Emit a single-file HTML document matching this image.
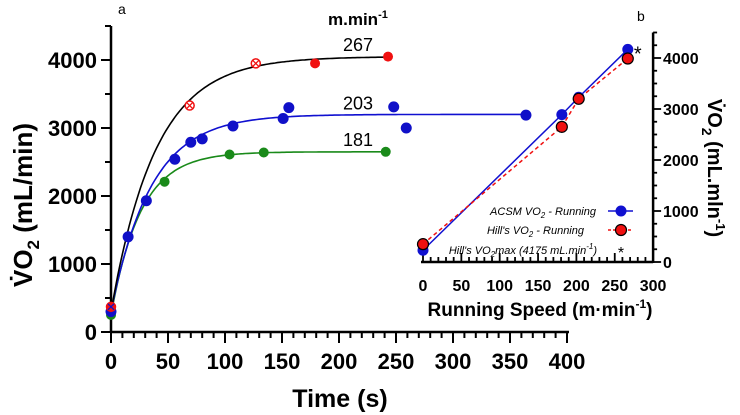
<!DOCTYPE html>
<html><head><meta charset="utf-8"><style>
body{margin:0;background:#fff}
svg{display:block;font-family:"Liberation Sans",Arial,sans-serif}
</style></head><body>
<svg id="c" width="740" height="415" viewBox="0 0 740 415" xmlns="http://www.w3.org/2000/svg"></svg>
<script>
// Panel a data
const xTicksA = [0,50,100,150,200,250,300,350,400];
const yTicksA = [0,1000,2000,3000,4000];
const redHollowT = [0,69,127];
const redHollowV = [370,3330,3950];
const redFilledT = [179,243];
const redFilledV = [3950,4050];
const blueT = [0,15,31,56,70,80,107,151,156,248,259,364];
const blueV = [300,1400,1930,2540,2790,2840,3030,3140,3300,3310,3000,3190];
const greenT = [0,47,104,134,241];
const greenV = [250,2210,2610,2640,2650];
// fitted curves: [baseline, plateau, tau, end time]
const fitBlack = [300,4050,39,243];
const fitBlue = [300,3200,35,364];
const fitGreen = [250,2650,26,241];
const speedLabels = ["267","203","181"];
const speedLabelV = [4250,3390,2850];
// Panel b data
const xTicksB = [0,50,100,150,200,250,300];
const yTicksB = [0,1000,2000,3000,4000];
const speeds = [0,181,203,267];
const acsmV = [230,2890,3230,4170];
const hillV = [350,2650,3200,3990];
const starS = [280]; const starV = [4150];

const svg=document.getElementById('c');
const NS='http://www.w3.org/2000/svg';
function el(tag,attrs,parent){const e=document.createElementNS(NS,tag);for(const k in attrs)e.setAttribute(k,attrs[k]);(parent||svg).appendChild(e);return e;}
function txt(s,attrs,parent){const e=el('text',attrs,parent);e.textContent=s;return e;}

const xA=t=>111+t*1.14, yA=v=>332-v*0.068;
const xB=s=>423+s*0.767, yB=v=>262-v*0.051;

// ---- Panel a
const gA=el('g',{});


el('line',{x1:xA(0),y1:332,x2:xA(400)+2,y2:332,stroke:'#000','stroke-width':2.5},gA);
el('line',{x1:111,y1:332,x2:111,y2:yA(4500),stroke:'#000','stroke-width':2.5},gA);
for(let t=0;t<=400;t+=10){const maj=t%50===0;el('line',{x1:xA(t),y1:332,x2:xA(t),y2:332+(maj?11:6),stroke:'#000','stroke-width':2},gA);}
for(let v=0;v<=4500;v+=500){const maj=v%1000===0;el('line',{x1:111,y1:yA(v),x2:111-(maj?10:6),y2:yA(v),stroke:'#000','stroke-width':2},gA);}
xTicksA.forEach(t=>{const e=txt(String(t),{x:xA(t),y:369,'text-anchor':'middle','font-size':22,'font-weight':'bold'},gA);
});
yTicksA.forEach(v=>{const e=txt(String(v),{x:97,y:yA(v)+8,'text-anchor':'end','font-size':22,'font-weight':'bold'},gA);
});
let t1=txt('Time (s)',{x:340,y:407,'text-anchor':'middle','font-size':25,'font-weight':'bold'},gA);

let yt=el('text',{transform:'translate(32,205) rotate(-90)','text-anchor':'middle','font-size':26,'font-weight':'bold'},gA);
yt.innerHTML='V\u0307O<tspan font-size="17" dy="7">2</tspan><tspan dy="-7"> (mL/min)</tspan>';

let la=txt('a',{x:118,y:14,'font-size':14},gA);
let mm=el('text',{x:328,y:25,'font-size':17,'font-weight':'bold'},gA);
mm.innerHTML='m.min<tspan font-size="11" dy="-7">-1</tspan>';


function curve(f,color,name){let d='';for(let t=0;t<=f[3];t+=2){const v=f[0]+(f[1]-f[0])*(1-Math.exp(-t/f[2]));d+=(t?'L':'M')+xA(t).toFixed(1)+','+yA(v).toFixed(1);}
const p=el('path',{d:d,fill:'none',stroke:color,'stroke-width':1.6},gA);
}
curve(fitGreen,'#1a8a1a','fit-curve-181');
curve(fitBlue,'#1010d0','fit-curve-203');
curve(fitBlack,'#000','fit-curve-267');
speedLabels.forEach((s,i)=>{const e=txt(s,{x:358,y:yA(speedLabelV[i])+8,'text-anchor':'middle','font-size':18},gA);
});
greenT.forEach((t,i)=>{const c=el('circle',{cx:xA(t),cy:yA(greenV[i]),r:5,fill:'#1a8a1a'},gA);
});
blueT.forEach((t,i)=>{const c=el('circle',{cx:xA(t),cy:yA(blueV[i]),r:5.5,fill:'#1010c8'},gA);
});
redFilledT.forEach((t,i)=>{const c=el('circle',{cx:xA(t),cy:yA(redFilledV[i]),r:5,fill:'#f01010'},gA);
});
redHollowT.forEach((t,i)=>{const x=xA(t),y=yA(redHollowV[i]);const g=el('g',{},gA);

el('circle',{cx:x,cy:y,r:4.5,fill:i===0?'#f01010':'#fff',stroke:'#f01010','stroke-width':1.5},g);
el('path',{d:`M${x-3},${y-3}L${x+3},${y+3}M${x-3},${y+3}L${x+3},${y-3}`,stroke:i===0?'#1010c8':'#f01010','stroke-width':1.3},g);});

// ---- Panel b
const gB=el('g',{});


el('line',{x1:xB(0)-2,y1:262,x2:xB(300),y2:262,stroke:'#000','stroke-width':2.5},gB);
el('line',{x1:xB(300),y1:263,x2:xB(300),y2:yB(4500),stroke:'#000','stroke-width':2.5},gB);
for(let s=0;s<=300;s+=10){const maj=s%50===0;el('line',{x1:xB(s),y1:262,x2:xB(s),y2:262-(maj?9:5),stroke:'#000','stroke-width':1.8},gB);}
for(let v=0;v<=4500;v+=250){const maj=v%1000===0;el('line',{x1:xB(300),y1:yB(v),x2:xB(300)+(maj?8:4),y2:yB(v),stroke:'#000','stroke-width':1.8},gB);}
xTicksB.forEach(s=>{const e=txt(String(s),{x:xB(s),y:291,'text-anchor':'middle','font-size':16,'font-weight':'bold'},gB);
});
yTicksB.forEach(v=>{const e=txt(String(v),{x:663,y:yB(v)+6,'font-size':16,'font-weight':'bold'},gB);
});
let xb=el('text',{x:540,y:316,'text-anchor':'middle','font-size':19,'font-weight':'bold'},gB);
xb.innerHTML='Running Speed (m·min<tspan font-size="12" dy="-8">-1</tspan><tspan dy="8">)</tspan>';

let ybt=el('text',{transform:'translate(708,168) rotate(90)','text-anchor':'middle','font-size':20,'font-weight':'bold'},gB);
ybt.innerHTML='V\u0307O<tspan font-size="14" dy="6">2</tspan><tspan dy="-6"> (mL.mln</tspan><tspan font-size="13" dy="-8">-1</tspan><tspan dy="8">)</tspan>';

let lb=txt('b',{x:637,y:21,'font-size':14},gB);

let dA='',dH='';speeds.forEach((s,i)=>{dA+=(i?'L':'M')+xB(s)+','+yB(acsmV[i]);dH+=(i?'L':'M')+xB(s)+','+yB(hillV[i]);});
let la1=el('path',{d:dA,fill:'none',stroke:'#1010d0','stroke-width':1.5},gB);
let la2=el('path',{d:dH,fill:'none',stroke:'#f01010','stroke-width':1.5,'stroke-dasharray':'4,3'},gB);
speeds.forEach((s,i)=>{const c=el('circle',{cx:xB(s),cy:yB(acsmV[i]),r:5.5,fill:'#1010d0'},gB);
});
speeds.forEach((s,i)=>{const c=el('circle',{cx:xB(s),cy:yB(hillV[i]),r:5.5,fill:'#f01010',stroke:'#000','stroke-width':1.2},gB);
});
starS.forEach((s,i)=>{const e=txt('*',{x:xB(s),y:yB(starV[i])+10,'text-anchor':'middle','font-size':20},gB);
});

const lg=el('g',{},gB);

let l1=el('text',{x:596,y:215,'text-anchor':'end','font-size':11,'font-style':'italic'},lg);
l1.innerHTML='ACSM VO<tspan font-size="8" dy="3">2</tspan><tspan dy="-3"> - Running</tspan>';

el('line',{x1:608,y1:211,x2:633,y2:211,stroke:'#1010d0','stroke-width':1.5},lg);
el('circle',{cx:621,cy:211,r:5.5,fill:'#1010d0'},lg);
let l2=el('text',{x:584,y:234,'text-anchor':'end','font-size':11,'font-style':'italic'},lg);
l2.innerHTML="Hill's VO<tspan font-size=\"8\" dy=\"3\">2</tspan><tspan dy=\"-3\"> - Running</tspan>";

el('line',{x1:608,y1:230,x2:633,y2:230,stroke:'#f01010','stroke-width':1.5,'stroke-dasharray':'3,2'},lg);
el('circle',{cx:621,cy:230,r:5.5,fill:'#f01010',stroke:'#000','stroke-width':1.2},lg);
let l3=el('text',{x:597,y:254,'text-anchor':'end','font-size':11,'font-style':'italic'},lg);
l3.innerHTML="Hill's VO<tspan font-size=\"8\" dy=\"3\">2</tspan><tspan dy=\"-3\">max (4175 mL.min</tspan><tspan font-size=\"8\" dy=\"-5\">-1</tspan><tspan dy=\"5\">)</tspan>";

txt('*',{x:621,y:258,'text-anchor':'middle','font-size':16},lg);
</script>
</body></html>
